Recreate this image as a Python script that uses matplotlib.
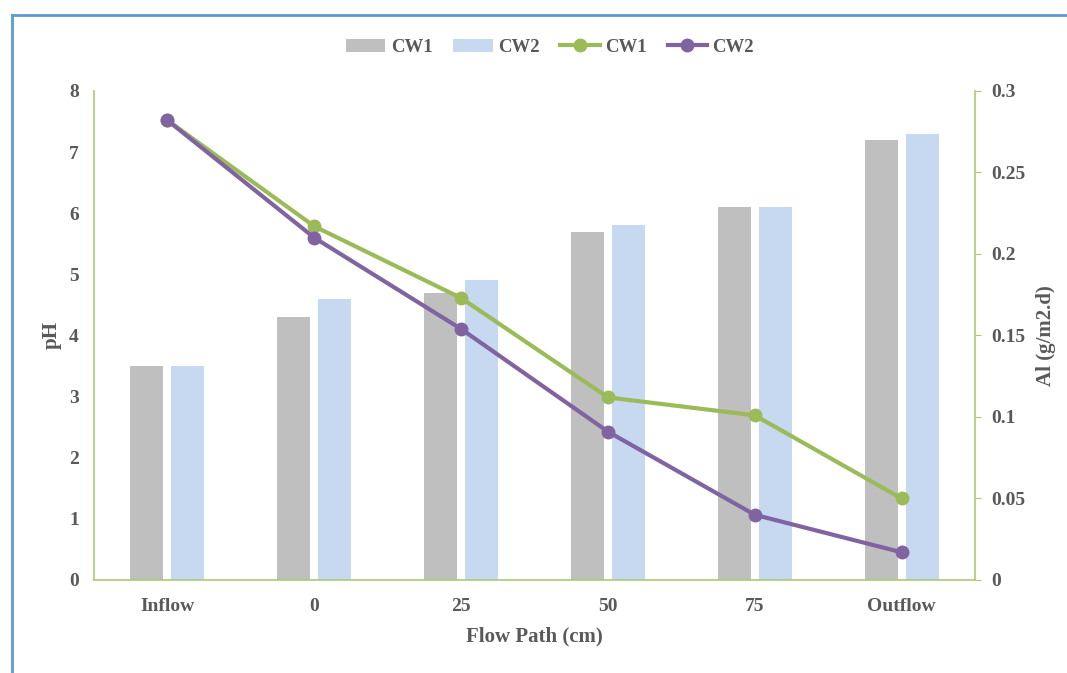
'''
Bar + line chart: pH and Al along the flow path for CW1 and CW2.
'''

import numpy as np
import matplotlib
matplotlib.use('Agg')
import matplotlib.pyplot as plt
from matplotlib.lines import Line2D

# Data
categories = ['Inflow', '0', '25', '50', '75', 'Outflow']
ph_cw1 = [3.5, 4.3, 4.7, 5.7, 6.1, 7.2]
ph_cw2 = [3.5, 4.6, 4.9, 5.8, 6.1, 7.3]
al_cw1 = [0.282, 0.217, 0.173, 0.112, 0.101, 0.050]
al_cw2 = [0.282, 0.210, 0.154, 0.091, 0.040, 0.017]

text_color = '#595959'
axis_green = '#A9CB75'
plt.rcParams['font.family'] = ['Liberation Serif', 'DejaVu Serif']
plt.rcParams['font.weight'] = 'bold'

fig = plt.figure(figsize=(10.67, 6.73), dpi=100)
ax = fig.add_axes([0.0881, 0.1382, 0.8257, 0.7266])
ax2 = ax.twinx()

x = np.arange(len(categories))
w = 0.225
ax.bar(x - 0.14, ph_cw1, w, color='#BFBFBF', label='CW1')
ax.bar(x + 0.14, ph_cw2, w, color='#C6D9F1', label='CW2')

ax2.plot(x, al_cw1, color='#9BBB59', lw=3, marker='o', ms=9, label='CW1')
ax2.plot(x, al_cw2, color='#8064A2', lw=3, marker='o', ms=9, label='CW2')

ax.set_xlim(-0.5, 5.5)
ax.set_ylim(0, 8)
ax2.set_ylim(0, 0.3)
ax.set_xticks(x)
ax.set_xticklabels(categories)
ax.set_yticks(range(9))
ax2.set_yticks([0, 0.05, 0.1, 0.15, 0.2, 0.25, 0.3])
ax2.set_yticklabels(['0', '0.05', '0.1', '0.15', '0.2', '0.25', '0.3'])

for a in (ax, ax2):
    for s in a.spines.values():
        s.set_visible(False)
    a.tick_params(labelsize=14, colors=text_color)
ax.spines['left'].set_visible(True)
ax.spines['bottom'].set_visible(True)
ax.spines['left'].set_color(axis_green)
ax.spines['bottom'].set_color(axis_green)
ax.spines['left'].set_linewidth(1.2)
ax.spines['bottom'].set_linewidth(1.2)
ax2.spines['right'].set_visible(True)
ax2.spines['right'].set_color(axis_green)
ax2.spines['right'].set_linewidth(1.2)
ax.tick_params(axis='y', length=0, pad=11)
ax.tick_params(axis='x', length=0, pad=13)
ax2.tick_params(axis='y', length=4, color=axis_green, pad=8)

ax.set_xlabel('Flow Path (cm)', fontsize=15, fontweight='bold', color=text_color, labelpad=8)
ax.set_ylabel('pH', fontsize=15, fontweight='bold', color=text_color, labelpad=5)
ax2.set_ylabel('Al (g/m2.d)', fontsize=15, fontweight='bold', color=text_color, labelpad=7)

h1, l1 = ax.get_legend_handles_labels()
h2, l2 = ax2.get_legend_handles_labels()
fig.legend(h1 + h2, l1 + l2, loc='center', bbox_to_anchor=(0.5155, 0.930), ncol=4,
           frameon=False, fontsize=13.5, labelcolor=text_color, handlelength=2.1,
           columnspacing=1.1, handletextpad=0.3)

# blue frame of the screenshot
fig.add_artist(Line2D([0.0108, 0.0108], [0, 1 - 15 / 673], color='#5B9BD5', lw=2,
                      transform=fig.transFigure))
fig.add_artist(Line2D([0.0108, 1], [1 - 15 / 673, 1 - 15 / 673], color='#5B9BD5', lw=2,
                      transform=fig.transFigure))

fig.savefig('out.png', dpi=100)
